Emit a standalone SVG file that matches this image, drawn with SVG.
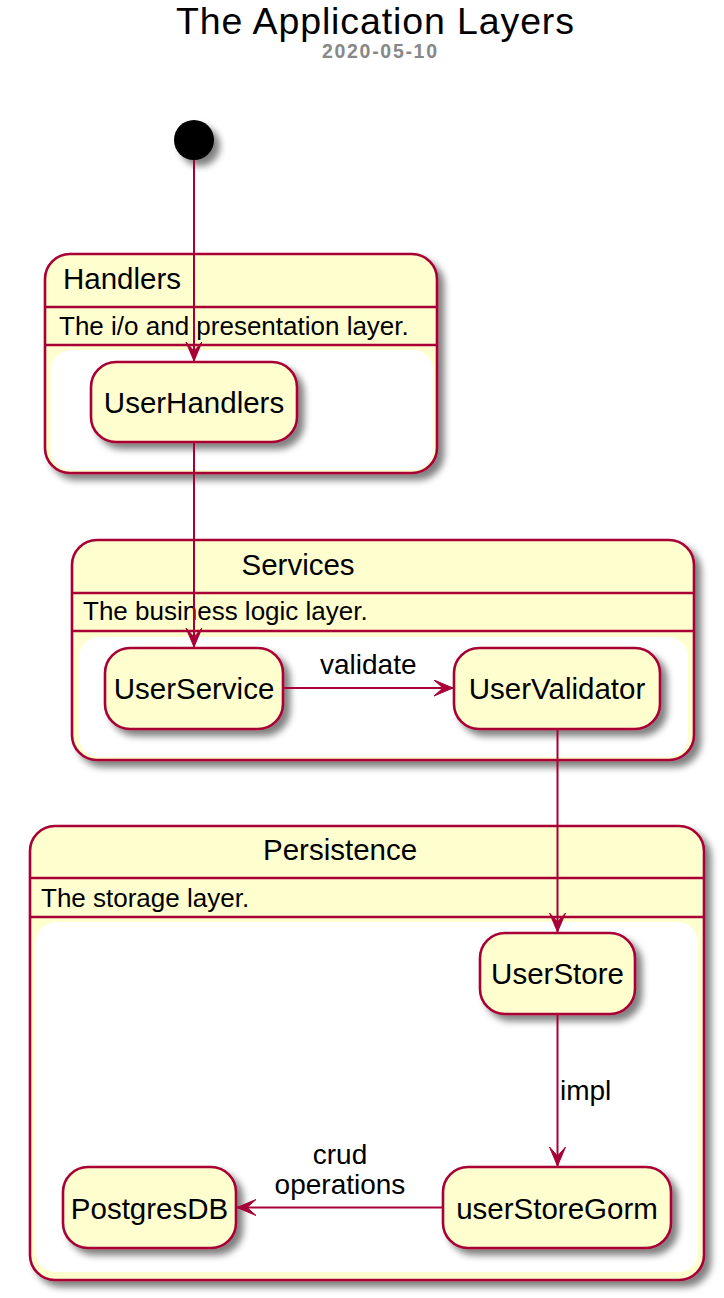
<svg xmlns="http://www.w3.org/2000/svg" width="724" height="1298" viewBox="0 0 724 1298">
<style>
text{font-family:"Liberation Sans",Arial,Helvetica,sans-serif;fill:#000000}
.box{fill:#FEFECE;stroke:#A80036;stroke-width:2.6}
.inner{fill:#FFFFFF;stroke:none}
.sep{stroke:#A80036;stroke-width:2.6;fill:none}
.node{fill:#FEFECE;stroke:#A80036;stroke-width:2.6}
.ntxt{font-size:29.5px;text-anchor:middle}
.ctitle{font-size:29.5px}
.desc{font-size:26px}
.elab{font-size:28px}
.edge{stroke:#A80036;stroke-width:2;fill:none;marker-end:url(#arr)}
</style>
<defs>
<filter id="sh" x="-20%" y="-20%" width="150%" height="150%">
<feGaussianBlur in="SourceAlpha" stdDeviation="3.5"/>
<feOffset dx="6" dy="6" result="b"/>
<feComponentTransfer in="b" result="c"><feFuncA type="linear" slope="0.5"/></feComponentTransfer>
<feMerge><feMergeNode in="c"/><feMergeNode in="SourceGraphic"/></feMerge>
</filter>
<marker id="arr" markerUnits="userSpaceOnUse" markerWidth="20" markerHeight="18" viewBox="0 0 20 18" refX="19" refY="8" orient="auto">
<path d="M19,8 L0,0 L9,8 L0,16 Z" fill="#A80036" stroke="#A80036" stroke-width="1"/>
</marker>
</defs>

<g id="title">
<text x="176" y="34" font-size="37.5" textLength="398" lengthAdjust="spacing">The Application Layers</text>
<text x="322" y="57.5" font-size="19.5" font-weight="bold" style="fill:#888888" textLength="115" lengthAdjust="spacing">2020-05-10</text>
</g>

<g id="Handlers">
<rect class="box" x="45" y="254" width="392" height="219" rx="25" ry="25" filter="url(#sh)"/>
<rect class="inner" x="51" y="350" width="382" height="120" rx="20" ry="20"/>
<line class="sep" x1="45" y1="307" x2="437" y2="307"/>
<line class="sep" x1="45" y1="345" x2="437" y2="345"/>
<text class="ctitle" x="63" y="289">Handlers</text>
<text class="desc" x="59" y="335">The i/o and presentation layer.</text>
</g>

<g id="Services">
<rect class="box" x="72" y="540" width="622" height="220" rx="25" ry="25" filter="url(#sh)"/>
<rect class="inner" x="79" y="637" width="609" height="120" rx="20" ry="20"/>
<line class="sep" x1="72" y1="593" x2="694" y2="593"/>
<line class="sep" x1="72" y1="631" x2="694" y2="631"/>
<text class="ctitle" x="241.5" y="575">Services</text>
<text class="desc" x="83" y="620">The business logic layer.</text>
</g>

<g id="Persistence">
<rect class="box" x="30" y="826" width="674" height="454" rx="25" ry="25" filter="url(#sh)"/>
<rect class="inner" x="36" y="922" width="662" height="350" rx="20" ry="20"/>
<line class="sep" x1="30" y1="878" x2="704" y2="878"/>
<line class="sep" x1="30" y1="917" x2="704" y2="917"/>
<text class="ctitle" x="263" y="860">Persistence</text>
<text class="desc" x="41" y="906.5">The storage layer.</text>
</g>

<g id="start">
<circle cx="194" cy="140" r="20" fill="#000000" filter="url(#sh)"/>
</g>

<g id="UserHandlers">
<rect class="node" x="91" y="362" width="206" height="80" rx="25" ry="25" filter="url(#sh)"/>
<text class="ntxt" x="194" y="413">UserHandlers</text>
</g>

<g id="UserService">
<rect class="node" x="105" y="648" width="178" height="81" rx="25" ry="25" filter="url(#sh)"/>
<text class="ntxt" x="194" y="698.5">UserService</text>
</g>

<g id="UserValidator">
<rect class="node" x="454" y="648" width="206" height="81" rx="25" ry="25" filter="url(#sh)"/>
<text class="ntxt" x="557" y="698.5">UserValidator</text>
</g>

<g id="UserStore">
<rect class="node" x="480" y="933" width="155" height="81" rx="25" ry="25" filter="url(#sh)"/>
<text class="ntxt" x="557.5" y="983.5">UserStore</text>
</g>

<g id="userStoreGorm">
<rect class="node" x="443" y="1167" width="228" height="81" rx="25" ry="25" filter="url(#sh)"/>
<text class="ntxt" x="557" y="1218.5">userStoreGorm</text>
</g>

<g id="PostgresDB">
<rect class="node" x="63" y="1167" width="173" height="81" rx="25" ry="25" filter="url(#sh)"/>
<text class="ntxt" x="149.5" y="1218.5">PostgresDB</text>
</g>

<g id="connectors">
<path class="edge" d="M194,160 L194,361"/>
<path class="edge" d="M194,442 L194,647"/>
<path class="edge" d="M283,688 L453,688"/>
<text class="elab" x="320" y="674">validate</text>
<path class="edge" d="M557.5,729 L557.5,932"/>
<path class="edge" d="M557.5,1014 L557.5,1166"/>
<text class="elab" x="560" y="1100">impl</text>
<path class="edge" d="M443,1207.5 L237,1207.5"/>
<text class="elab" x="340" y="1164" text-anchor="middle">crud</text>
<text class="elab" x="340" y="1194" text-anchor="middle">operations</text>
</g>
</svg>
